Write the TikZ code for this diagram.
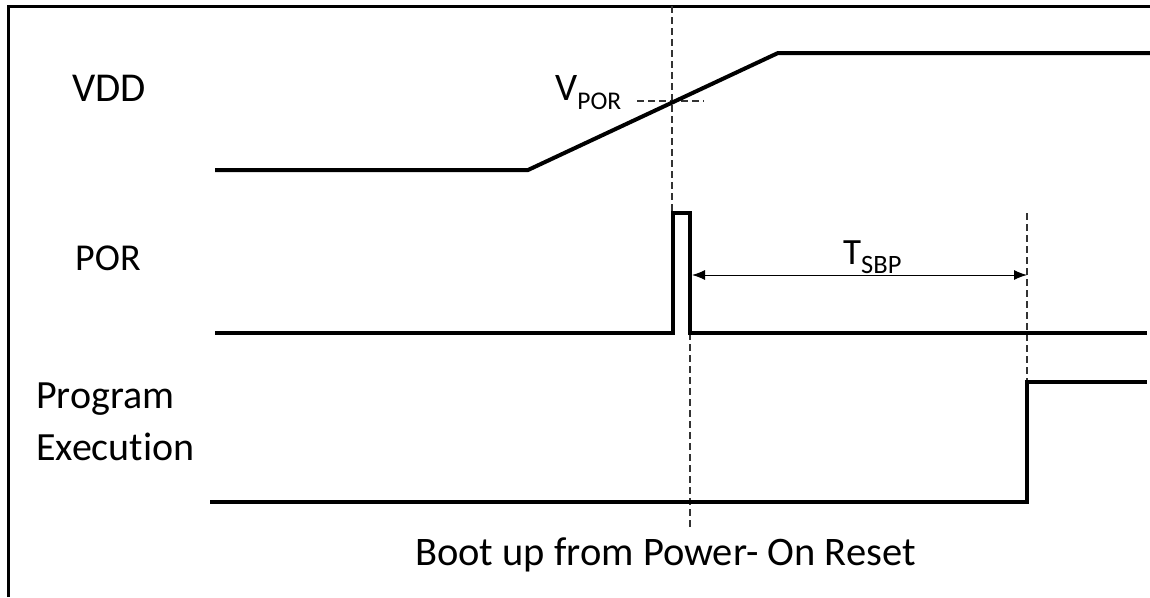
\documentclass[tikz,border=0pt]{standalone}
\usepackage{fontspec}
\setmainfont{Carlito}[Ligatures=NoCommon]
\usetikzlibrary{arrows.meta}
\begin{document}
\begin{tikzpicture}[x=1pt,y=-1pt,
  signal/.style={line width=4pt,line join=miter,line cap=butt},
  guide/.style={line width=1.2pt,draw=black!80,dash pattern=on 7pt off 4pt},
  frameline/.style={line width=3pt},
  lbl/.style={inner sep=0pt,anchor=base west},
  dim/.style={line width=1pt,{Latex[length=13pt,width=10pt]}-{Latex[length=13pt,width=10pt]}}]
\useasboundingbox (0,0) rectangle (1150,597);
% frame (top and left only)
\draw[frameline] (8,597) -- (8,6) -- (1150,6);
% labels
\node[lbl,font=\fontsize{41}{49}\selectfont] (vdd) at (72,101) {VDD};
\node[lbl,font=\fontsize{38}{45}\selectfont] (por) at (75,270) {POR};
\node[lbl,font=\fontsize{40}{48}\selectfont] (prog) at (36,408) {Program};
\node[lbl,font=\fontsize{40}{48}\selectfont] (exec) at (36,460) {Execution};
\node[lbl,font=\fontsize{40.5}{48}\selectfont] (title) at (415,565) {Boot up from Power- On Reset};
\node[lbl,font=\fontsize{39}{46}\selectfont] (vpor) at (555,100) {V\raisebox{-9pt}{\fontsize{25.5}{26}\selectfont POR}};
\node[lbl,font=\fontsize{37}{46}\selectfont] (tsbp) at (843,264) {T\raisebox{-9pt}{\fontsize{26.5}{27}\selectfont SBP}};
% guides
\coordinate (g1t) at (672,6);
\coordinate (g1b) at (672,213);
\coordinate (g2t) at (690,333);
\coordinate (g2b) at (690,527);
\coordinate (g3t) at (1027,213);
\coordinate (g3b) at (1027,382);
\coordinate (hl) at (637,101);
\coordinate (hr) at (704,101);
\draw[guide] (g1t) -- (g1b);
\draw[guide] (g2t) -- (g2b);
\draw[guide] (g3t) -- (g3b);
\draw[guide] (hl) -- (hr);
% VDD signal
\draw[signal] (215,170) -- (528,170) -- (778,53) -- (1150,53);
% POR signal
\draw[signal] (215,333) -- (673,333) -- (673,213) -- (690,213) -- (690,333) -- (1147,333);
% Program execution signal
\draw[signal] (210,502) -- (1027,502) -- (1027,382) -- (1147,382);
% T_SBP dimension
\coordinate (al) at (692,275);
\coordinate (ar) at (1027,275);
\draw[dim] (al) -- (ar);
\end{tikzpicture}
\end{document}
